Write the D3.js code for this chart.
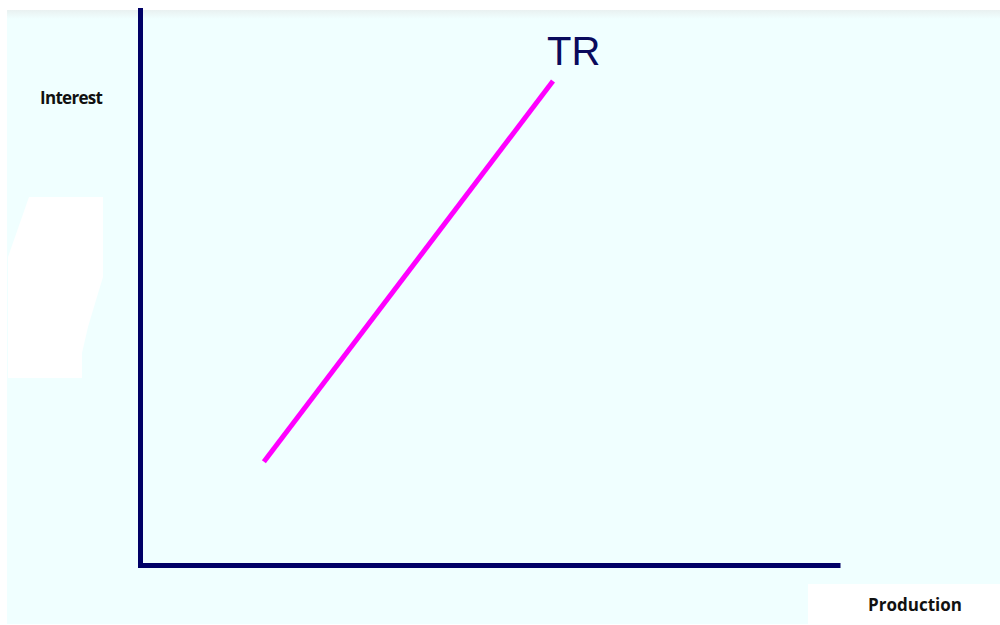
<!DOCTYPE html>
<html>
<head>
<meta charset="utf-8">
<script src="https://cdn.jsdelivr.net/npm/d3@7"></script>
<style>
  body { margin: 0; background: #fff; }
  svg { display: block; }
</style>
</head>
<body>
<div id="container"></div>
<script>
// TR line: production vs interest
const production = [1.77, 5.9];
const interest = [1.86, 8.72];
const seriesName = "TR";
const xLabel = "Production";
const yLabel = "Interest";

const W = 1000, H = 625;
const svg = d3.select("#container")
  .append("svg")
    .attr("width", W)
    .attr("height", H);

const defs = svg.append("defs");
const grad = defs.append("linearGradient")
    .attr("id", "topfade")
    .attr("x1", 0).attr("y1", 0).attr("x2", 0).attr("y2", 1);
grad.append("stop").attr("offset", "0%").attr("stop-color", "#e9f1f1");
grad.append("stop").attr("offset", "100%").attr("stop-color", "#f0ffff");

// background panel
svg.append("rect")
    .attr("x", 7).attr("y", 10)
    .attr("width", W - 7).attr("height", 614)
    .attr("fill", "#f0ffff");
svg.append("rect")
    .attr("x", 7).attr("y", 10)
    .attr("width", W - 7).attr("height", 9)
    .attr("fill", "url(#topfade)");

// white patches from the original slide
svg.append("path")
    .attr("d", "M29,197 L103,197 L103,277 Q96,300 88,327 L82,353 L82,378 L8,378 L8,257 Z")
    .attr("fill", "#ffffff");
svg.append("rect")
    .attr("x", 808).attr("y", 584)
    .attr("width", W - 808).attr("height", H - 584)
    .attr("fill", "#ffffff");

const x = d3.scaleLinear().domain([0, 10]).range([140, 840]);
const y = d3.scaleLinear().domain([0, 10]).range([565, 10]);

// axes: only the domain lines, no ticks
const xAxis = svg.append("g")
    .attr("transform", `translate(0,${y(0)})`)
    .call(d3.axisBottom(x).ticks(0).tickSizeOuter(0));
xAxis.select(".domain").attr("stroke-linecap", "butt");
const yAxis = svg.append("g")
    .attr("transform", `translate(${x(0)},0)`)
    .call(d3.axisLeft(y).ticks(0).tickSizeOuter(0));
yAxis.select(".domain").attr("stroke-linecap", "square");
svg.selectAll(".domain")
    .attr("stroke", "#000066")
    .attr("stroke-width", 5);

const data = production.map((p, i) => ({p: p, r: interest[i]}));

svg.append("path")
    .datum(data)
    .attr("d", d3.line().x(d => x(d.p)).y(d => y(d.r)))
    .attr("stroke", "#ff00ff")
    .attr("stroke-width", 5)
    .attr("fill", "none");

const last = data[data.length - 1];
svg.append("text")
    .attr("x", x(last.p) - 6)
    .attr("y", y(last.r) - 16)
    .attr("font-family", "Liberation Sans, Arial, sans-serif")
    .attr("font-size", 40)
    .attr("fill", "#0a0a5c")
    .text(seriesName);

svg.append("text")
    .attr("x", 40).attr("y", 104)
    .attr("font-family", "Open Sans, sans-serif")
    .attr("font-weight", "bold")
    .attr("font-size", 17)
    .attr("textLength", 63)
    .attr("fill", "#111")
    .text(yLabel);

svg.append("text")
    .attr("x", 868).attr("y", 611)
    .attr("font-family", "Open Sans, sans-serif")
    .attr("font-weight", "bold")
    .attr("font-size", 17)
    .attr("textLength", 94)
    .attr("fill", "#111")
    .text(xLabel);
</script>
</body>
</html>
